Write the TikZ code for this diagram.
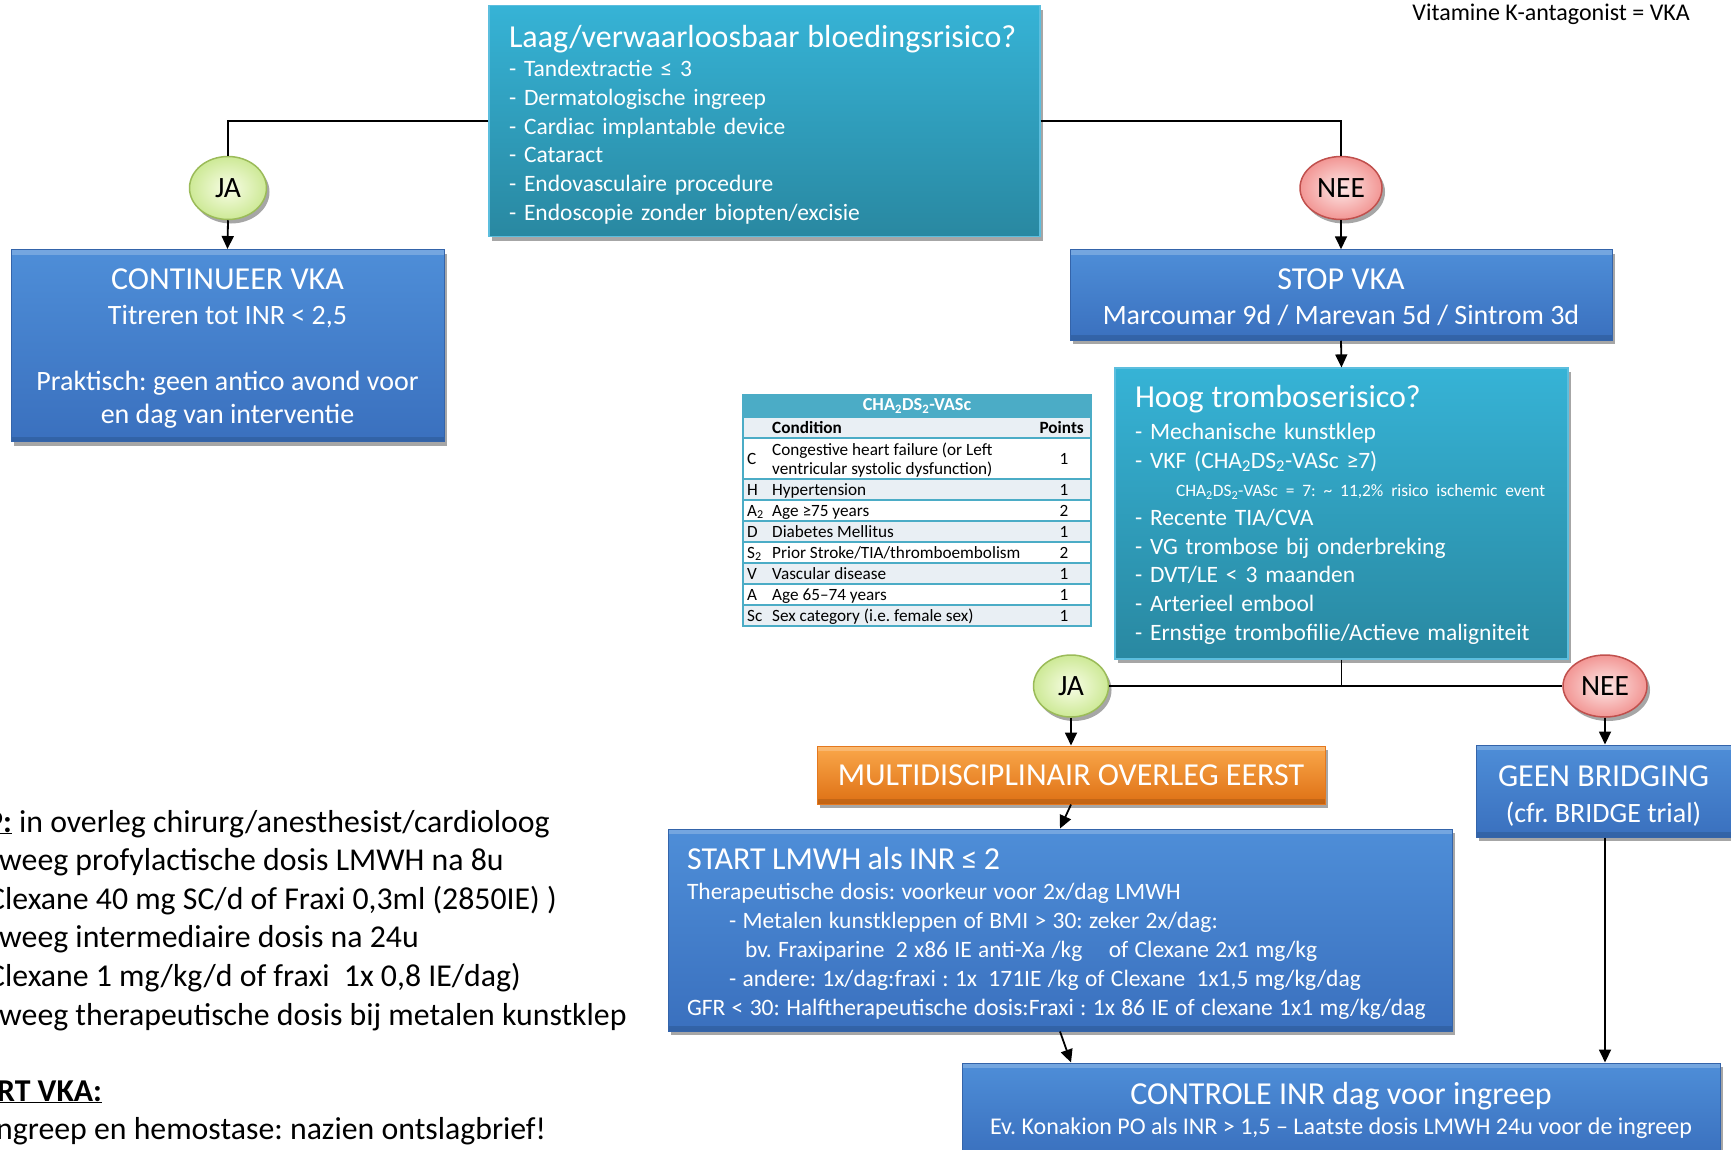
\documentclass[tikz,border=0pt]{standalone}
\usepackage{fontspec}
\setmainfont{Carlito}
\usepackage{tikz}
\usetikzlibrary{shapes.geometric,shadows,arrows.meta}
\frenchspacing

\definecolor{tealboven}{RGB}{54,179,214}
\definecolor{tealonder}{RGB}{41,136,161}
\definecolor{tealrand}{RGB}{92,190,222}
\definecolor{blauwboven}{RGB}{78,142,216}
\definecolor{blauwonder}{RGB}{58,112,190}
\definecolor{blauwrand}{RGB}{52,100,170}
\definecolor{oranjeboven}{RGB}{250,168,75}
\definecolor{oranjeonder}{RGB}{222,112,20}
\definecolor{oranjerand}{RGB}{228,120,30}
\definecolor{jabinnen}{RGB}{248,253,230}
\definecolor{jabuiten}{RGB}{205,233,150}
\definecolor{jarand}{RGB}{155,187,89}
\definecolor{neebinnen}{RGB}{253,232,231}
\definecolor{neebuiten}{RGB}{242,150,148}
\definecolor{neerand}{RGB}{192,80,77}
\definecolor{tabelkleur}{RGB}{75,172,198}
\definecolor{tabellicht}{RGB}{233,239,244}

\newcommand{\maat}[2]{\fontsize{#1}{#2}\selectfont}
% onzichtbare steunen voor de verticale plaats van de tekst
\newcommand{\kop}[1]{\rule{0pt}{#1pt}}
\newcommand{\voet}{\rule[-10pt]{0pt}{10pt}}

\tikzset{
  schaduw/.style={drop shadow={shadow xshift=3pt,shadow yshift=-4pt,opacity=0.35,fill=black}},
  bevel/.style={path picture={
      \fill[white,opacity=0.22] (path picture bounding box.north west) rectangle ([yshift=-5pt]path picture bounding box.north east);
      \fill[black,opacity=0.12] (path picture bounding box.south west) rectangle ([yshift=5pt]path picture bounding box.south east);}},
  tealbox/.style={rectangle, draw=tealrand, line width=1.2pt, top color=tealboven, bottom color=tealonder, text=white, schaduw, inner ysep=0pt, align=left, font=\maat{23.5}{28.7}},
  blauwbox/.style={rectangle, draw=blauwrand, line width=1pt, top color=blauwboven, bottom color=blauwonder, text=white, schaduw, bevel, inner sep=0pt, align=center},
  oranjebox/.style={rectangle, draw=oranjerand, line width=1pt, top color=oranjeboven, bottom color=oranjeonder, text=white, schaduw, bevel, inner sep=0pt, align=center},
  janode/.style={ellipse, draw=jarand, line width=1.5pt, inner color=jabinnen, outer color=jabuiten, schaduw, inner sep=0pt, minimum width=77pt, minimum height=63pt, font=\maat{29.5}{35}},
  neenode/.style={ellipse, draw=neerand, line width=1.5pt, inner color=neebinnen, outer color=neebuiten, schaduw, inner sep=0pt, minimum width=82pt, minimum height=63pt, font=\maat{29.5}{35}},
  lijn/.style={line width=1.8pt},
  pijl/.style={lijn, -{Triangle[width=12pt,length=13pt]}},
  tabelrand/.style={draw=tabelkleur, line width=2pt},
  tabeltekst/.style={font=\maat{17.2}{19}, inner sep=0pt, text=black},
  linkstekst/.style={anchor=base west, inner sep=0pt, font=\maat{31.8}{38.6}}
}

\begin{document}
\begin{tikzpicture}[x=1pt,y=-1pt]
  \useasboundingbox (0,0) rectangle (1731,1149);
  \clip (0,0) rectangle (1731,1149);

  % vragen
  \node[tealbox, text width=511pt, inner xsep=20pt, minimum height=231pt] (laag) at (764.5,121)
    {\kop{35.3}{\maat{32}{38}Laag/verwaarloosbaar bloedingsrisico?}\\[0.9pt]
     - Tandextractie ≤ 3\\
     - Dermatologische ingreep\\
     - Cardiac implantable device\\
     - Cataract\\
     - Endovasculaire procedure\\
     - Endoscopie zonder biopten/excisie\voet};
  \node[tealbox, text width=413pt, inner xsep=20pt, minimum height=291pt] (hoog) at (1341.5,513.5)
    {\kop{31}{\maat{32}{38}Hoog tromboserisico?}\\[3pt]
     - Mechanische kunstklep\\
     - VKF (CHA\textsubscript{2}DS\textsubscript{2}-VASc ≥7)\\
     \hspace*{41pt}\mbox{\maat{17.4}{22}CHA\textsubscript{2}DS\textsubscript{2}-VASc = 7: \textasciitilde{} 11,2\% risico ischemic event}\\
     - Recente TIA/CVA\\
     - VG trombose bij onderbreking\\
     - DVT/LE < 3 maanden\\
     - Arterieel embool\\
     - Ernstige trombofilie/Actieve maligniteit\voet};

  % antwoorden
  \node[janode] (ja1) at (228,188) {JA};
  \node[neenode] (nee1) at (1341,188) {NEE};
  \node[janode, minimum width=75pt, minimum height=62pt] (ja2) at (1071,686) {JA};
  \node[neenode, minimum width=84pt, minimum height=62pt] (nee2) at (1605,686) {NEE};

  % acties
  \node[blauwbox, minimum width=433pt, minimum height=192pt, font=\maat{28}{33}] (continueer) at (227.5,345.5)
    {\kop{31.4}{\maat{32}{38}CONTINUEER VKA}\\[2pt]
     Titreren tot INR < 2,5\\[33pt]
     Praktisch: geen antico avond voor\\
     en dag van interventie\voet};
  \node[blauwbox, minimum width=542pt, minimum height=90.5pt, font=\maat{28}{33}] (stop) at (1341,295)
    {\kop{33}{\maat{32}{38}STOP VKA}\\[2pt]
     Marcoumar 9d / Marevan 5d / Sintrom 3d\voet};
  \node[oranjebox, minimum width=508pt, minimum height=58pt, font=\maat{32}{38}] (overleg) at (1071,775)
    {MULTIDISCIPLINAIR OVERLEG EERST};
  \node[blauwbox, minimum width=255pt, minimum height=92pt, font=\maat{28}{33}] (geen) at (1603.5,791)
    {\kop{37.5}{\maat{32}{38}GEEN BRIDGING}\\[3pt]
     (cfr. BRIDGE trial)\voet};
  \node[blauwbox, align=left, text width=746pt, inner xsep=19pt, minimum height=202pt, font=\maat{23.5}{29}] (start) at (1060,930)
    {\spaceskip=0.27em\relax
     \kop{34.7}{\maat{32}{38}START LMWH als INR ≤ 2}\\[0.5pt]
     Therapeutische dosis: voorkeur voor 2x/dag LMWH\\
     \hspace*{42pt}- Metalen kunstkleppen of BMI > 30: zeker 2x/dag:\\
     \hspace*{58pt}bv. Fraxiparine\hspace{5pt} 2 x86 IE anti-Xa /kg\hspace{20pt} of Clexane 2x1 mg/kg\\
     \hspace*{42pt}- andere: 1x/dag:fraxi : 1x\hspace{5pt} 171IE /kg of Clexane\hspace{5pt} 1x1,5 mg/kg/dag\\
     \mbox{GFR < 30: Halftherapeutische dosis:Fraxi : 1x 86 IE of clexane 1x1 mg/kg/dag}\voet};
  \node[blauwbox, minimum width=758pt, minimum height=94pt, font=\maat{24}{28.8}] (controle) at (1341,1110)
    {\kop{29}{\maat{32}{38}CONTROLE INR dag voor ingreep}\\[1pt]
     Ev. Konakion PO als INR > 1,5 -- Laatste dosis LMWH 24u voor de ingreep\voet};

  \node[anchor=base east, inner sep=0pt, font=\maat{24}{28.8}] (vka) at (1690,20) {Vitamine K-antagonist = VKA};

  % verbindingen
  \draw[lijn] (laag.west) -| (ja1.north);
  \draw[pijl] (ja1.south) -- (continueer.north);
  \draw[lijn] (laag.east) -| (nee1.north);
  \draw[pijl] (nee1.south) -- (stop.north);
  \draw[pijl] (stop.south) -- (hoog.north);
  \draw[lijn] (hoog.south) -- (hoog.south |- ja2.east);
  \draw[lijn] (ja2.east) -- (nee2.west);
  \draw[pijl] (ja2.south) -- (overleg.north);
  \draw[pijl] (nee2.south) -- (nee2.south |- geen.north);
  \draw[pijl] (overleg.south) -- (start.north);
  \draw[pijl] (start.south) -- (controle.north -| overleg.south);
  \draw[pijl] (geen.south -| nee2.south) -- (controle.north -| nee2.south);

  % CHA2DS2-VASc tabel
  \node[fill=tabelkleur, draw=tabelkleur, line width=2pt, minimum width=348pt, minimum height=22pt, inner sep=0pt, text=white, font=\maat{18.3}{20}\bfseries] (tabelkop) at (917,406) {CHA\textsubscript{2}DS\textsubscript{2}-VASc};
  \draw[tabelrand, fill=tabellicht] (743,417) rectangle (1091,438);
  \node[tabeltekst, anchor=base west, font=\maat{17.2}{19}\bfseries] (conditie) at (772,433) {Condition};
  \node[tabeltekst, anchor=base east, font=\maat{17.2}{19}\bfseries] (punten) at (1084,433) {Points};
  \draw[tabelrand, fill=white] (743,438) rectangle (1091,479);
  \node[tabeltekst, anchor=base west] (afkC) at (747,464) {C};
  \node[tabeltekst, anchor=base west, align=left] (condC) at (772,474) {Congestive heart failure (or Left\\ventricular systolic dysfunction)};
  \node[tabeltekst, anchor=base] (puntC) at (1064,464) {1};
  \foreach \afk/\conditie/\punt [count=\r from 0] in {H/Hypertension/1, {A\textsubscript{2}}/Age ≥75 years/2, D/Diabetes Mellitus/1, {S\textsubscript{2}}/{Prior Stroke/TIA/thromboembolism}/2, V/Vascular disease/1, A/Age 65--74 years/1, Sc/{Sex category (i.e. female sex)}/1}{
    \pgfmathsetmacro{\boven}{479+21*\r}
    \pgfmathtruncatemacro{\even}{mod(\r,2)}
    \ifnum\even=0 \def\vulkleur{tabellicht}\else\def\vulkleur{white}\fi
    \draw[tabelrand, fill=\vulkleur] (743,\boven) rectangle (1091,\boven+21);
    \node[tabeltekst, anchor=base west] (afk\r) at (747,\boven+16) {\afk};
    \node[tabeltekst, anchor=base west] (cond\r) at (772,\boven+16) {\conditie};
    \node[tabeltekst, anchor=base] (punt\r) at (1064,\boven+16) {\punt};
  }

  % tekst links
  \node[linkstekst] (links1) at (-14,832) {\underline{\textbf{P:}} in overleg chirurg/anesthesist/cardioloog};
  \node[linkstekst] (links2) at (-1,870) {weeg profylactische dosis LMWH na 8u};
  \node[linkstekst] (links3) at (-12,909) {Clexane 40 mg SC/d of Fraxi 0,3ml (2850IE) )};
  \node[linkstekst] (links4) at (-1,947) {weeg intermediaire dosis na 24u};
  \node[linkstekst] (links5) at (-12,986) {Clexane 1 mg/kg/d of fraxi\ \ 1x 0,8 IE/dag)};
  \node[linkstekst] (links6) at (-1,1025) {weeg therapeutische dosis bij metalen kunstklep};
  \node[linkstekst] (links7) at (-3,1101) {\underline{\textbf{RT VKA:}}};
  \node[linkstekst] (links8) at (-4,1139) {ngreep en hemostase: nazien ontslagbrief!};
\end{tikzpicture}
\end{document}
